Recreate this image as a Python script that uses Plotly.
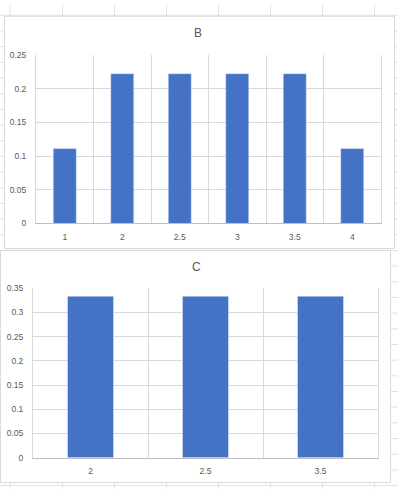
import plotly.graph_objects as go

# ---- data ----
b_categories = ["1", "2", "2.5", "3", "3.5", "4"]
b_values = [1/9, 2/9, 2/9, 2/9, 2/9, 1/9]
c_categories = ["2", "2.5", "3.5"]
c_values = [1/3, 1/3, 1/3]
b_title = "B"
c_title = "C"

W, H = 398, 494
def px(x):
    return x / W
def py(y):
    return 1 - y / H

BAR = "#4472C4"
GRID = "#d9d9d9"
SHEET = "#e2e2e2"
TXT = "#595959"
FONT = "Liberation Sans"

fig = go.Figure()
fig.add_trace(go.Bar(x=b_categories, y=b_values, marker_color=BAR, xaxis="x", yaxis="y",
                     hoverinfo="skip"))
fig.add_trace(go.Bar(x=c_categories, y=c_values, marker_color=BAR, xaxis="x2", yaxis="y2",
                     hoverinfo="skip"))

shapes = []
# spreadsheet grid
for xv in [10, 62.5, 114.5, 166.5, 218.5, 270.5, 322.5, 374.5]:
    shapes.append(dict(type="line", xref="paper", yref="paper", x0=px(xv), x1=px(xv),
                       y0=0, y1=1, line=dict(color=SHEET, width=1), layer="below"))
for k in range(32):
    yv = 10.5 + 16 * k
    shapes.append(dict(type="line", xref="paper", yref="paper", x0=0, x1=1,
                       y0=py(yv), y1=py(yv), line=dict(color=SHEET, width=1), layer="below"))
# chart frames
shapes.append(dict(type="rect", xref="paper", yref="paper", x0=px(4.5), x1=px(394.5),
                   y0=py(248.5), y1=py(11.5), fillcolor="white",
                   line=dict(color=GRID, width=1), layer="below"))
shapes.append(dict(type="rect", xref="paper", yref="paper", x0=px(0.5), x1=px(390.5),
                   y0=py(487.5), y1=py(250.5), fillcolor="white",
                   line=dict(color=GRID, width=1), layer="below"))

tickfont = dict(family=FONT, size=8.5, color=TXT)
xcommon = dict(type="category", tickson="boundaries", showgrid=True, gridcolor=GRID,
               gridwidth=1, showline=True, linecolor="#bfbfbf", linewidth=1, ticks="",
               tickfont=tickfont, ticklabelstandoff=5, fixedrange=True)
ycommon = dict(showgrid=True, gridcolor=GRID, gridwidth=1, showline=True, linecolor=GRID,
               mirror=True, ticks="", tickfont=tickfont, zeroline=False,
               ticklabelstandoff=7, fixedrange=True)

fig.update_layout(
    width=W, height=H, margin=dict(l=0, r=0, t=0, b=0),
    paper_bgcolor="white", plot_bgcolor="rgba(0,0,0,0)",
    showlegend=False, bargap=0.6,
    shapes=shapes,
    xaxis=dict(domain=[px(36), px(381)], anchor="y", **xcommon),
    yaxis=dict(domain=[py(223), py(51)], anchor="x", range=[0, 0.25], dtick=0.05, **ycommon),
    xaxis2=dict(domain=[px(33), px(378)], anchor="y2", **xcommon),
    yaxis2=dict(domain=[py(462), py(289)], anchor="x2", range=[0, 0.35], dtick=0.05, **ycommon),
    annotations=[
        dict(text=b_title, xref="paper", yref="paper", x=px(198), y=py(29), showarrow=False,
             font=dict(family=FONT, size=12, color=TXT), xanchor="center", yanchor="middle"),
        dict(text=c_title, xref="paper", yref="paper", x=px(196), y=py(267), showarrow=False,
             font=dict(family=FONT, size=12, color=TXT), xanchor="center", yanchor="middle"),
    ],
)

fig.write_html("out.html", config={"displayModeBar": False},
               post_script="document.body.style.margin='0';document.body.style.overflow='hidden';")
